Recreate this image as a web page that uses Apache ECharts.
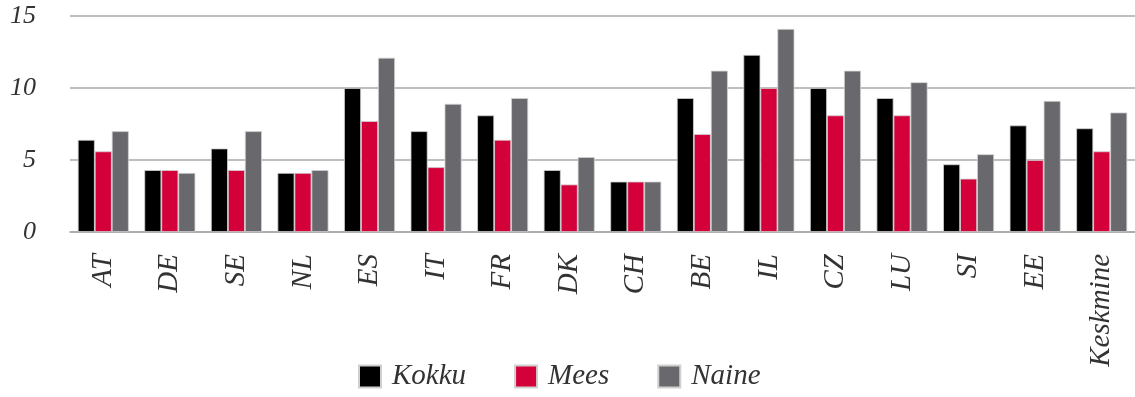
<!DOCTYPE html>
<html>
<head>
<meta charset="utf-8">
<script src="https://cdn.jsdelivr.net/npm/echarts@6/dist/echarts.min.js"></script>
<style>
  html, body { margin: 0; padding: 0; background: #ffffff; }
  #chart { width: 1135px; height: 397px; }
</style>
</head>
<body>
<div id="chart"></div>
<script>
// Country codes along the x axis, with the average last
const categories = ['AT', 'DE', 'SE', 'NL', 'ES', 'IT', 'FR', 'DK', 'CH', 'BE', 'IL', 'CZ', 'LU', 'SI', 'EE', 'Keskmine'];

// Values per group
const kokku = [6.4, 4.3, 5.8, 4.1, 10.0, 7.0, 8.1, 4.3, 3.5, 9.3, 12.3, 10.0, 9.3, 4.7, 7.4, 7.2];
const mees  = [5.6, 4.3, 4.3, 4.1, 7.7, 4.5, 6.4, 3.3, 3.5, 6.8, 10.0, 8.1, 8.1, 3.7, 5.0, 5.6];
const naine = [7.0, 4.1, 7.0, 4.3, 12.1, 8.9, 9.3, 5.2, 3.5, 11.2, 14.1, 11.2, 10.4, 5.4, 9.1, 8.3];

const seriesNames = ['Kokku', 'Mees', 'Naine'];
const yTicks = [0, 5, 10, 15];

const FONT = '"Liberation Serif", "DejaVu Serif", serif';
const TEXT = '#333333';
const colors = ['#000000', '#d4003a', '#69686d'];

const chart = echarts.init(document.getElementById('chart'));

function barSeries(name, data, color) {
  return {
    name: name,
    type: 'bar',
    data: data,
    barWidth: 17,
    barGap: '0%',
    itemStyle: { color: color, borderColor: '#d0d0d0', borderWidth: 0.8 },
    emphasis: { disabled: true }
  };
}

chart.setOption({
  animation: false,
  color: colors,
  grid: { left: 70, right: -3, top: 16, bottom: 165, containLabel: false },
  legend: {
    data: seriesNames,
    bottom: 1,
    left: 353,
    itemWidth: 22,
    itemHeight: 22,
    itemGap: 48,
    icon: 'rect',
    textStyle: {
      fontFamily: FONT, fontStyle: 'italic', fontSize: 29, color: TEXT,
      padding: [0, 0, 0, 6]
    }
  },
  xAxis: {
    type: 'category',
    data: categories,
    axisLine: { show: true, lineStyle: { color: '#a8a8a8', width: 1.5 } },
    axisTick: { show: false },
    axisLabel: {
      rotate: 90,
      margin: 22,
      fontFamily: FONT, fontStyle: 'italic', fontSize: 29, color: TEXT
    }
  },
  yAxis: {
    type: 'value',
    min: yTicks[0],
    max: yTicks[yTicks.length - 1],
    interval: 5,
    axisLine: { show: false },
    axisTick: { show: false },
    splitLine: { lineStyle: { color: '#a8a8a8', width: 1.5 } },
    axisLabel: {
      margin: 34,
      fontFamily: FONT, fontStyle: 'italic', fontSize: 26, color: TEXT
    }
  },
  series: [
    barSeries(seriesNames[0], kokku, colors[0]),
    barSeries(seriesNames[1], mees, colors[1]),
    barSeries(seriesNames[2], naine, colors[2])
  ]
});
</script>
</body>
</html>
